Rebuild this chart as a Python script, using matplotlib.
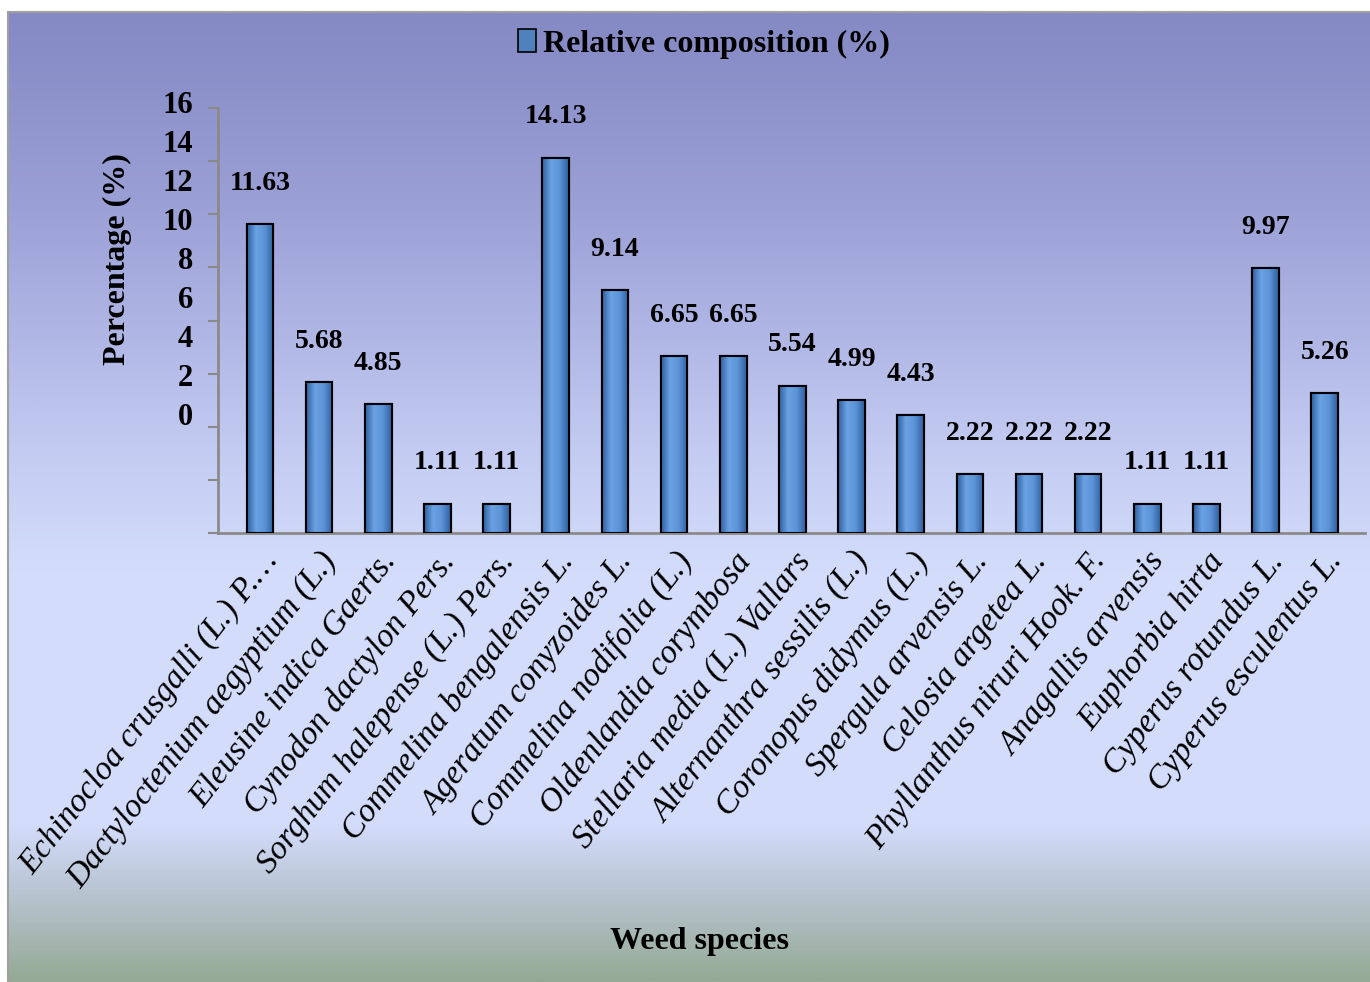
import matplotlib
matplotlib.use("Agg")
import matplotlib.pyplot as plt
import numpy as np
from matplotlib.colors import LinearSegmentedColormap
from matplotlib.patches import Patch

# Data
species = [
    "Echinocloa crusgalli (L.) P.…",
    "Dactyloctenium aegyptium (L.)",
    "Eleusine indica Gaerts.",
    "Cynodon dactylon Pers.",
    "Sorghum halepense (L.) Pers.",
    "Commelina bengalensis L.",
    "Ageratum conyzoides L.",
    "Commelina nodifolia (L.)",
    "Oldenlandia corymbosa",
    "Stellaria media (L.) Vallars",
    "Alternanthra sessilis (L.)",
    "Coronopus didymus (L.)",
    "Spergula arvensis L.",
    "Celosia argetea L.",
    "Phyllanthus niruri Hook. F.",
    "Anagallis arvensis",
    "Euphorbia hirta",
    "Cyperus rotundus L.",
    "Cyperus esculentus L.",
]
composition = [11.63, 5.68, 4.85, 1.11, 1.11, 14.13, 9.14, 6.65, 6.65, 5.54,
               4.99, 4.43, 2.22, 2.22, 2.22, 1.11, 1.11, 9.97, 5.26]
y_ticks = [0, 2, 4, 6, 8, 10, 12, 14, 16]

plt.rcParams["font.family"] = ["Liberation Serif", "DejaVu Serif"]

W, H = 1370, 982
fig = plt.figure(figsize=(W / 100, H / 100), dpi=100)
fig.patch.set_facecolor("white")

# background gradient panel
bg = fig.add_axes([8 / W, 0, 1 - 8 / W, 1 - 12 / H], zorder=-5)
bg_cmap = LinearSegmentedColormap.from_list("bg", [
    (0.00, "#8589c4"),
    (0.20, "#9ba0d6"),
    (0.45, "#c3cbf2"),
    (0.58, "#d3ddfb"),
    (0.84, "#d3ddfb"),
    (0.90, "#bcc8d8"),
    (1.00, "#95aa96"),
])
bg.imshow(np.linspace(0, 1, 400).reshape(-1, 1), aspect="auto", cmap=bg_cmap,
          extent=[0, 1, 0, 1], origin="upper")
bg.set_xticks([])
bg.set_yticks([])
for s in ["right", "bottom"]:
    bg.spines[s].set_visible(False)
for s in ["left", "top"]:
    bg.spines[s].set_color("#a0a0a0")
    bg.spines[s].set_linewidth(1.5)

ax = fig.add_axes([218 / W, 1 - 533 / H, 1 - 5 / W - 218 / W, (533 - 108) / H])
ax.set_facecolor("none")
x = np.arange(len(species))
bars = ax.bar(x, composition, width=0.45, color="#5b8fd0", edgecolor="black",
              linewidth=1.5, zorder=3)

# horizontal shading inside each bar
bar_cmap = LinearSegmentedColormap.from_list("bar", ["#2f5f9e", "#6aa2e4", "#5b93d6", "#2f5f9e"])
grad = np.linspace(0, 1, 64).reshape(1, -1)
for b in bars:
    im = ax.imshow(grad, aspect="auto", cmap=bar_cmap, zorder=3.5,
                   extent=[b.get_x(), b.get_x() + b.get_width(), 0, b.get_height()])
    im.set_clip_path(b)
    ax.add_patch(plt.Rectangle((b.get_x(), 0), b.get_width(), b.get_height(),
                               fill=False, edgecolor="black", linewidth=1.5, zorder=4))

for xi, v in zip(x, composition):
    ax.annotate(f"{v:.2f}", (xi, v), xytext=(0, 29.5), textcoords="offset points",
                ha="center", va="center", fontsize=20, fontweight="bold")

ax.set_xlim(-0.71, len(species) - 1 + 0.68)
ax.set_ylim(0, 16)
ax.set_yticks(y_ticks)
ax.set_yticklabels([])
ax.tick_params(axis="y", length=7, width=1.5, color="#8a8a8a")
ax.tick_params(axis="x", length=0)
for s in ["top", "right"]:
    ax.spines[s].set_visible(False)
for s in ["left", "bottom"]:
    ax.spines[s].set_color("#8a8a8a")
    ax.spines[s].set_linewidth(2)

# y tick labels sit squeezed in the upper part of the axis, as in the original
lo, hi = 4.35, 16.1
for v in y_ticks:
    ax.text(-1.13, lo + v * (hi - lo) / 16, str(v), transform=ax.transData,
            ha="right", va="center", fontsize=22, fontweight="bold")

ax.set_xticks(x)
ax.set_xticklabels(species, rotation=52, ha="right", va="top",
                   rotation_mode="anchor", fontsize=24, fontstyle="italic",
                   family="Liberation Serif")
for lab in ax.get_xticklabels():
    lab.set_y(-0.02)

fig.text(117 / W, 1 - 259 / H, "Percentage (%)", rotation=90, ha="center", va="center",
         fontsize=23, fontweight="bold")
fig.text(699 / W, 1 - 942 / H, "Weed species", ha="center", va="center",
         fontsize=23, fontweight="bold")

handle = Patch(facecolor="#4f81bd", edgecolor="black", linewidth=1.2)
fig.legend([handle], ["Relative composition (%)"], loc="center",
           bbox_to_anchor=(704 / W, 1 - 44 / H), frameon=False,
           handlelength=0.56, handleheight=0.72, handletextpad=0.2,
           prop={"size": 23, "weight": "bold"})

fig.savefig("out.png", dpi=100)
